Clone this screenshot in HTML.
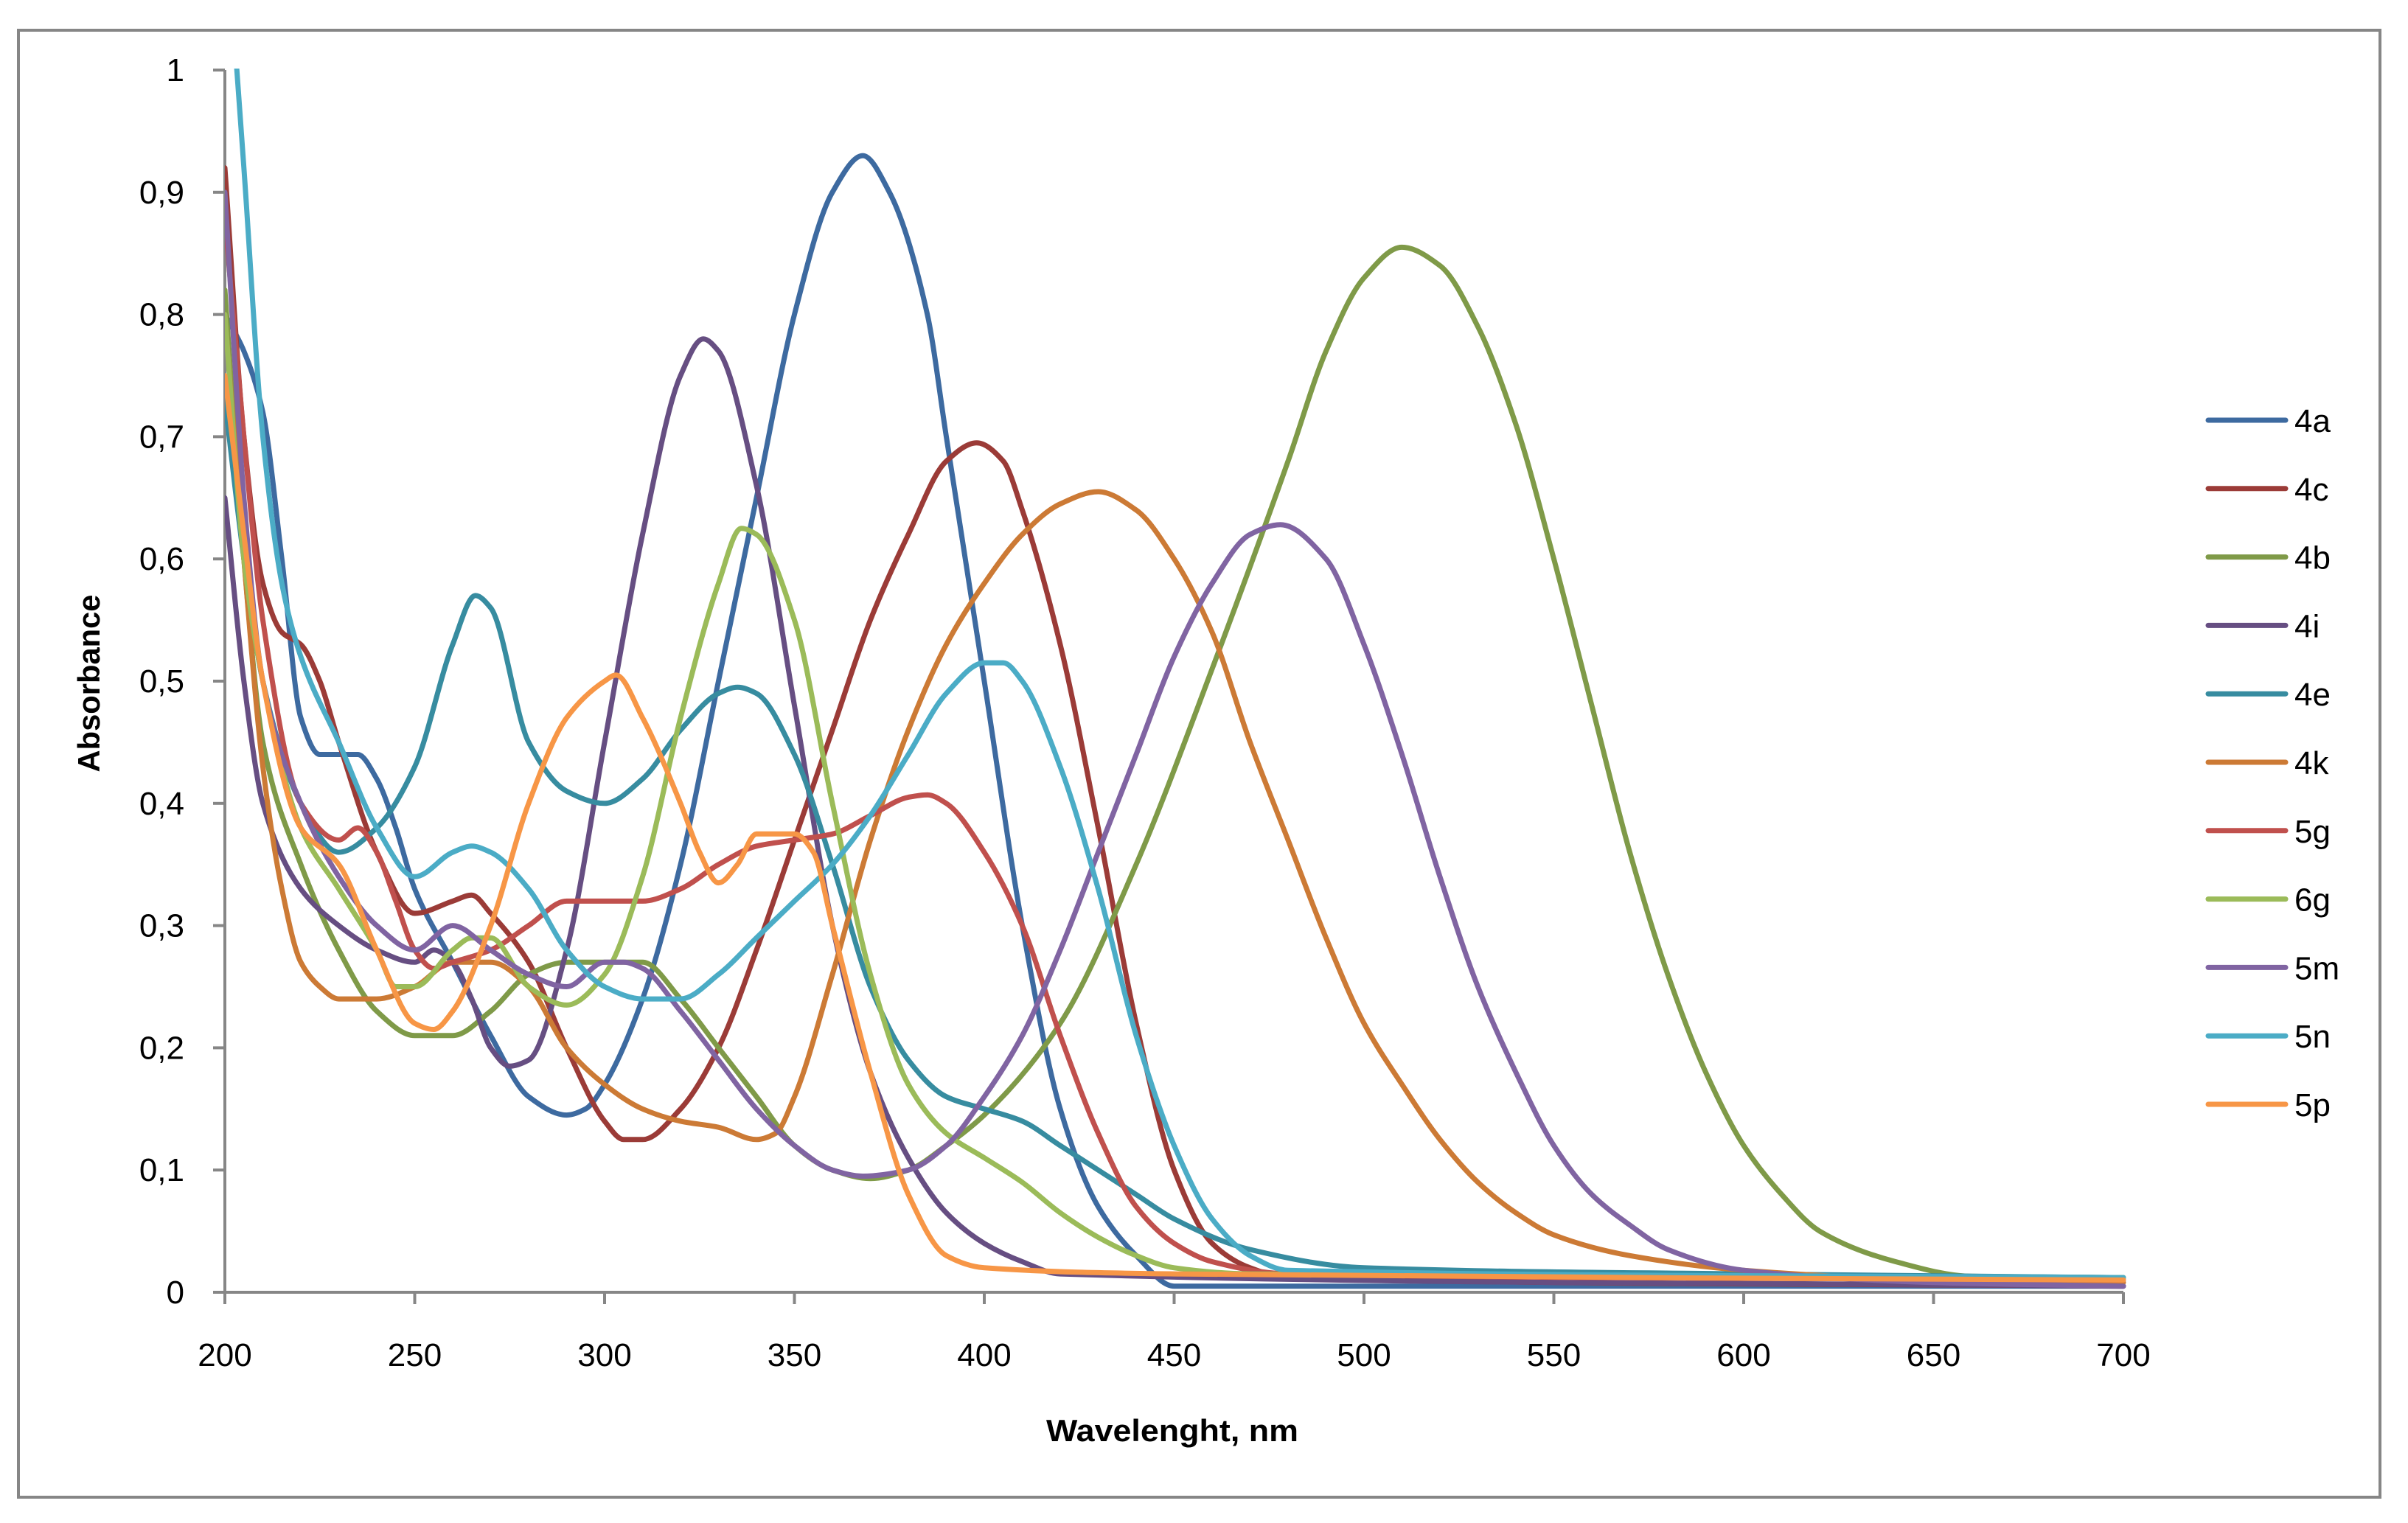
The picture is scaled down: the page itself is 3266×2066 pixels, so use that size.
<!DOCTYPE html>
<html><head><meta charset="utf-8"><style>
html,body{margin:0;padding:0;background:#fff}
svg{display:block}
text{font-family:"Liberation Sans",sans-serif;fill:#000}
</style></head><body>
<svg id="chart" width="3266" height="2066" viewBox="0 0 3266 2066" xmlns="http://www.w3.org/2000/svg">
<rect x="25" y="41" width="3203" height="1990" fill="#fff" stroke="#868686" stroke-width="4"/>
<defs><clipPath id="pc"><rect x="305" y="93" width="2580" height="1670"/></clipPath></defs>
<g id="axes"></g>
<g id="series" clip-path="url(#pc)"></g>
<g id="legend"></g>
<text transform="translate(135,927) rotate(-90)" text-anchor="middle" font-weight="bold" font-size="42" textLength="241" lengthAdjust="spacingAndGlyphs">Absorbance</text>
<text x="1590" y="1955" text-anchor="middle" font-weight="bold" font-size="42" textLength="342" lengthAdjust="spacingAndGlyphs">Wavelenght, nm</text>
</svg>
<script>
const xTicks=[200,250,300,350,400,450,500,550,600,650,700];
const yTicks=[0,0.1,0.2,0.3,0.4,0.5,0.6,0.7,0.8,0.9,1];
const yTickLabels=["0","0,1","0,2","0,3","0,4","0,5","0,6","0,7","0,8","0,9","1"];
const seriesNames=["4a","4c","4b","4i","4e","4k","5g","6g","5m","5n","5p"];
const seriesColors=["#3d6aa0","#9b3b37","#7f9a48","#664e82","#378ca0","#cc7a35","#c0504d","#9bbb59","#8064a2","#4bacc6","#f79646"];
const s4a=[[200,0.8],[205,0.77],[210,0.72],[215,0.6],[220,0.47],[225,0.44],[235,0.44],[240,0.42],[245,0.38],[250,0.33],[260,0.27],[270,0.21],[280,0.16],[290,0.145],[295,0.15],[300,0.17],[310,0.24],[320,0.35],[330,0.5],[340,0.65],[350,0.8],[360,0.9],[368,0.93],[375,0.9],[385,0.8],[390,0.7],[400,0.5],[410,0.3],[420,0.15],[430,0.07],[440,0.03],[450,0.005],[700,0.005]];
const s4c=[[200,0.92],[205,0.7],[210,0.58],[215,0.54],[220,0.53],[225,0.5],[230,0.45],[240,0.36],[250,0.31],[260,0.32],[265,0.325],[270,0.31],[280,0.27],[290,0.2],[300,0.14],[305,0.125],[310,0.125],[320,0.15],[330,0.2],[340,0.28],[350,0.37],[360,0.46],[370,0.55],[380,0.62],[390,0.68],[398,0.695],[405,0.68],[410,0.64],[420,0.53],[430,0.38],[440,0.22],[450,0.1],[460,0.04],[470,0.02],[480,0.012],[700,0.005]];
const s4b=[[200,0.82],[205,0.6],[210,0.45],[220,0.35],[230,0.28],[240,0.23],[250,0.21],[260,0.21],[270,0.23],[280,0.26],[290,0.27],[300,0.27],[310,0.27],[320,0.24],[330,0.2],[340,0.16],[350,0.12],[360,0.1],[370,0.093],[380,0.1],[390,0.12],[400,0.145],[420,0.22],[440,0.35],[460,0.51],[480,0.68],[490,0.77],[500,0.83],[510,0.855],[520,0.84],[530,0.79],[540,0.71],[550,0.6],[560,0.48],[570,0.36],[580,0.26],[590,0.18],[600,0.12],[610,0.08],[620,0.05],[640,0.025],[660,0.013],[700,0.012]];
const s4i=[[200,0.65],[205,0.5],[210,0.4],[220,0.33],[230,0.3],[240,0.28],[250,0.27],[255,0.28],[260,0.27],[265,0.24],[270,0.2],[275,0.185],[280,0.19],[290,0.28],[300,0.45],[310,0.62],[320,0.75],[326,0.78],[330,0.77],[340,0.66],[350,0.48],[360,0.3],[370,0.18],[380,0.11],[390,0.065],[400,0.04],[410,0.025],[420,0.015],[700,0.005]];
const s4e=[[200,0.73],[205,0.6],[210,0.5],[220,0.4],[230,0.36],[240,0.38],[250,0.43],[260,0.53],[266,0.57],[270,0.56],[280,0.45],[290,0.41],[300,0.4],[310,0.42],[320,0.46],[330,0.49],[335,0.495],[340,0.49],[350,0.44],[360,0.35],[370,0.25],[380,0.19],[390,0.16],[400,0.15],[410,0.14],[420,0.12],[430,0.1],[440,0.08],[450,0.06],[470,0.035],[500,0.02],[600,0.015],[700,0.012]];
const s4k=[[200,0.8],[205,0.6],[210,0.43],[215,0.33],[220,0.27],[225,0.25],[230,0.24],[240,0.24],[250,0.25],[260,0.27],[270,0.27],[280,0.25],[290,0.2],[300,0.17],[310,0.15],[320,0.14],[330,0.135],[340,0.125],[345,0.13],[350,0.16],[360,0.26],[370,0.37],[380,0.46],[390,0.53],[400,0.58],[410,0.62],[420,0.645],[430,0.655],[440,0.64],[450,0.6],[460,0.54],[470,0.45],[480,0.37],[490,0.29],[500,0.22],[510,0.17],[520,0.125],[530,0.09],[540,0.065],[550,0.047],[570,0.03],[600,0.018],[650,0.01],[700,0.008]];
const s5g=[[200,0.88],[205,0.7],[210,0.55],[220,0.4],[230,0.37],[235,0.38],[240,0.36],[245,0.32],[250,0.28],[255,0.265],[260,0.27],[270,0.28],[280,0.3],[290,0.32],[300,0.32],[310,0.32],[320,0.33],[330,0.35],[340,0.365],[350,0.37],[360,0.375],[370,0.39],[380,0.405],[385,0.407],[390,0.4],[400,0.36],[410,0.3],[420,0.21],[430,0.13],[440,0.07],[450,0.04],[460,0.025],[480,0.015],[700,0.01]];
const s6g=[[200,0.8],[205,0.6],[210,0.5],[220,0.38],[230,0.33],[240,0.28],[245,0.25],[250,0.25],[260,0.28],[265,0.29],[270,0.29],[280,0.25],[290,0.235],[300,0.26],[310,0.34],[320,0.47],[330,0.58],[336,0.625],[340,0.62],[350,0.55],[360,0.4],[370,0.26],[380,0.17],[390,0.13],[400,0.11],[410,0.09],[420,0.065],[430,0.045],[440,0.03],[450,0.02],[470,0.015],[700,0.012]];
const s5m=[[200,0.9],[205,0.65],[210,0.5],[220,0.4],[230,0.34],[240,0.3],[250,0.28],[260,0.3],[270,0.28],[280,0.26],[290,0.25],[300,0.27],[305,0.27],[310,0.265],[320,0.23],[330,0.19],[340,0.15],[350,0.12],[360,0.1],[368,0.095],[380,0.1],[390,0.12],[400,0.16],[410,0.21],[420,0.28],[430,0.36],[440,0.44],[450,0.52],[460,0.58],[470,0.62],[478,0.628],[490,0.6],[500,0.53],[510,0.44],[520,0.34],[530,0.25],[540,0.18],[550,0.12],[560,0.08],[570,0.055],[580,0.035],[600,0.018],[650,0.008],[700,0.005]];
const s5n=[[202,1.05],[205,0.92],[210,0.7],[215,0.58],[220,0.52],[230,0.45],[240,0.38],[250,0.34],[260,0.36],[265,0.365],[270,0.36],[280,0.33],[290,0.28],[300,0.25],[310,0.24],[320,0.24],[330,0.26],[340,0.29],[350,0.32],[360,0.35],[370,0.39],[380,0.44],[390,0.49],[400,0.515],[405,0.515],[410,0.5],[420,0.43],[430,0.33],[440,0.21],[450,0.12],[460,0.06],[470,0.03],[480,0.018],[700,0.012]];
const s5p=[[200,0.75],[205,0.62],[210,0.5],[220,0.38],[230,0.35],[240,0.28],[250,0.22],[255,0.215],[260,0.23],[270,0.3],[280,0.4],[290,0.47],[300,0.5],[303,0.505],[310,0.47],[320,0.4],[325,0.36],[330,0.335],[335,0.35],[340,0.375],[350,0.375],[355,0.36],[360,0.3],[370,0.18],[380,0.08],[390,0.03],[400,0.02],[450,0.015],[700,0.01]];
const seriesData=[s4a,s4c,s4b,s4i,s4e,s4k,s5g,s6g,s5m,s5n,s5p];

const NS="http://www.w3.org/2000/svg";
const X0=305,X1=2880,Y0=1753,Y1=95;
function xs(v){return X0+(v-200)/(700-200)*(X1-X0);}
function ys(v){return Y0-(v-0)/(1-0)*(Y0-Y1);}
function mk(tag,attrs,parent){const e=document.createElementNS(NS,tag);for(const k in attrs)e.setAttribute(k,attrs[k]);parent.appendChild(e);return e;}
const axes=document.getElementById('axes');
const ya=mk('line',{x1:xs(200),y1:ys(0),x2:xs(200),y2:ys(1),stroke:'#868686','stroke-width':4},axes);


const xa=mk('line',{x1:xs(200)-15,y1:ys(0),x2:xs(700),y2:ys(0),stroke:'#868686','stroke-width':4},axes);


yTicks.forEach((t,i)=>{
  const tk=mk('line',{x1:xs(200)-16,y1:ys(t),x2:xs(200),y2:ys(t),stroke:'#868686','stroke-width':4},axes);
  
  
  const tx=mk('text',{x:250,y:ys(t)+15,'text-anchor':'end','font-size':44},axes);
  tx.textContent=yTickLabels[i];
  
  
});
xTicks.forEach(t=>{
  const tk=mk('line',{x1:xs(t),y1:ys(0),x2:xs(t),y2:ys(0)+16,stroke:'#868686','stroke-width':4},axes);
  
  
  const tx=mk('text',{x:xs(t),y:1853,'text-anchor':'middle','font-size':44},axes);
  tx.textContent=String(t);
  
  
});
function pathFor(pts){
  const p=pts.map(d=>[xs(d[0]),ys(d[1])]);
  const n=p.length,dl=[],m=[];
  for(let i=0;i<n-1;i++)dl.push((p[i+1][1]-p[i][1])/(p[i+1][0]-p[i][0]));
  for(let i=0;i<n;i++){
    if(i===0)m.push(dl[0]);else if(i===n-1)m.push(dl[n-2]);
    else if(dl[i-1]*dl[i]<=0)m.push(0);
    else{const h0=p[i][0]-p[i-1][0],h1=p[i+1][0]-p[i][0];const w1=2*h1+h0,w2=h1+2*h0;m.push((w1+w2)/(w1/dl[i-1]+w2/dl[i]));}
  }
  let s='M'+p[0][0].toFixed(1)+','+p[0][1].toFixed(1);
  for(let i=0;i<n-1;i++){
    const h=(p[i+1][0]-p[i][0])/3;
    s+=' C'+(p[i][0]+h).toFixed(1)+','+(p[i][1]+m[i]*h).toFixed(1)+' '+(p[i+1][0]-h).toFixed(1)+','+(p[i+1][1]-m[i+1]*h).toFixed(1)+' '+p[i+1][0].toFixed(1)+','+p[i+1][1].toFixed(1);
  }
  return s;
}
const sg=document.getElementById('series');
const lg=document.getElementById('legend');
seriesData.forEach((pts,i)=>{
  const pth=mk('path',{d:pathFor(pts),fill:'none',stroke:seriesColors[i],'stroke-width':7,'stroke-linejoin':'round','stroke-linecap':'round'},sg);
  
  
  const ly=570+i*92.8;
  const ll=mk('line',{x1:2995,y1:ly,x2:3100,y2:ly,stroke:seriesColors[i],'stroke-width':7,'stroke-linecap':'round'},lg);
  
  
  const lt=mk('text',{x:3112,y:ly+16,'font-size':44},lg);
  lt.textContent=seriesNames[i];
  
  
});
</script>
</body></html>
